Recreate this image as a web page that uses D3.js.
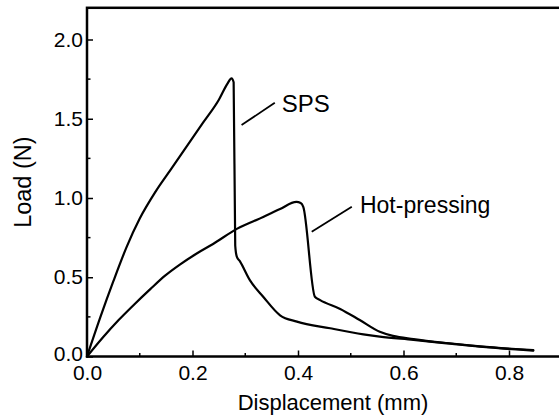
<!DOCTYPE html>
<html>
<head>
<meta charset="utf-8">
<script src="https://cdn.jsdelivr.net/npm/d3@7/dist/d3.min.js"></script>
<style>
  html, body { margin: 0; padding: 0; background: #fff; }
  svg { display: block; }
  text { font-family: "Liberation Sans", Arial, Helvetica, sans-serif; fill: #000; }
</style>
</head>
<body>
<script>
// ---- Data ----
const spsX = [0, 0.025, 0.05, 0.075, 0.10, 0.13, 0.16, 0.19, 0.22, 0.25, 0.266, 0.274, 0.278, 0.281, 0.284, 0.290, 0.309, 0.334, 0.366, 0.398, 0.461, 0.524, 0.555, 0.619, 0.682, 0.745, 0.846];
const spsY = [0, 0.245, 0.475, 0.69, 0.87, 1.04, 1.185, 1.33, 1.475, 1.62, 1.72, 1.755, 1.73, 0.70, 0.63, 0.60, 0.48, 0.377, 0.26, 0.22, 0.178, 0.14, 0.125, 0.105, 0.083, 0.062, 0.037];

const hotX = [0, 0.03, 0.06, 0.09, 0.12, 0.148, 0.176, 0.208, 0.239, 0.284, 0.334, 0.366, 0.397, 0.405, 0.410, 0.432, 0.442, 0.480, 0.517, 0.555, 0.580, 0.619, 0.682, 0.745, 0.846];
const hotY = [0, 0.12, 0.23, 0.33, 0.425, 0.51, 0.58, 0.65, 0.71, 0.805, 0.88, 0.93, 0.975, 0.968, 0.944, 0.377, 0.356, 0.30, 0.23, 0.156, 0.13, 0.11, 0.085, 0.064, 0.040];

const xTicks = [0, 0.2, 0.4, 0.6, 0.8];
const xMinorTicks = [0.1, 0.3, 0.5, 0.7];
const yTicks = [0, 0.5, 1.0, 1.5, 2.0];
const yMinorTicks = [0.25, 0.75, 1.25, 1.75];

const seriesNames = ["SPS", "Hot-pressing"];
// annotation: leader line start/end and label anchor, in data units
const annLineX1 = [0.293, 0.426];
const annLineY1 = [1.46, 0.787];
const annLineX2 = [0.356, 0.502];
const annLineY2 = [1.601, 0.945];
const annTextX = [0.369, 0.5175];
const annTextY = [1.545, 0.903];

const xTitle = "Displacement (mm)";
const yTitle = "Load (N)";

// ---- Chart ----
const W = 559, H = 416;
const svg = d3.select("body").append("svg").attr("width", W).attr("height", H);

const x = d3.scaleLinear().domain([0, 0.9]).range([87, 561.75]);
const y = d3.scaleLinear().domain([0, 2.2]).range([356.5, 7.8]);

// frame
svg.append("rect")
  .attr("x", x(0)).attr("y", y(2.2))
  .attr("width", x(0.9) - x(0)).attr("height", y(0) - y(2.2))
  .attr("fill", "none").attr("stroke", "#000").attr("stroke-width", 2.5);

// x ticks (inward)
const gx = svg.append("g").attr("transform", `translate(0,${y(0)})`);
gx.call(d3.axisBottom(x).tickValues(xTicks).tickSize(-6).tickPadding(10).tickFormat(d3.format(".1f")))
  .call(g => g.select(".domain").remove());
gx.selectAll(".tick line").attr("stroke", "#000").attr("stroke-width", 1.5);
gx.selectAll(".tick text").attr("font-size", 21).attr("dy", "0.71em").attr("y", 9)
  .style("font-family", '"Liberation Sans", Arial, sans-serif');
gx.append("g").selectAll("line").data(xMinorTicks).join("line")
  .attr("x1", d => x(d)).attr("x2", d => x(d)).attr("y1", 0).attr("y2", -3.5)
  .attr("stroke", "#000").attr("stroke-width", 1.5);

// y ticks (inward)
const gy = svg.append("g").attr("transform", `translate(${x(0)},0)`);
gy.call(d3.axisLeft(y).tickValues(yTicks).tickSize(-6).tickPadding(5).tickFormat(d3.format(".1f")))
  .call(g => g.select(".domain").remove());
gy.selectAll(".tick line").attr("stroke", "#000").attr("stroke-width", 1.5);
gy.selectAll(".tick text").attr("font-size", 21).attr("x", -4)
  .attr("dy", d => d === 0 ? "0.2em" : "0.32em")
  .style("font-family", '"Liberation Sans", Arial, sans-serif');
gy.append("g").selectAll("line").data(yMinorTicks).join("line")
  .attr("y1", d => y(d)).attr("y2", d => y(d)).attr("x1", 0).attr("x2", 3.5)
  .attr("stroke", "#000").attr("stroke-width", 1.5);

// axis titles
svg.append("text").attr("x", 333).attr("y", 410).attr("text-anchor", "middle")
  .attr("font-size", 22).text(xTitle);
svg.append("text").attr("transform", `translate(31,${(y(0) + y(2.2)) / 2}) rotate(-90)`)
  .attr("text-anchor", "middle").attr("font-size", 23.5).text(yTitle);

// curves
const line = d3.line().x(d => x(d[0])).y(d => y(d[1])).curve(d3.curveMonotoneX);
const spsData = spsX.map((v, i) => [v, spsY[i]]);
const hotData = hotX.map((v, i) => [v, hotY[i]]);
[spsData, hotData].forEach(data => {
  svg.append("path").datum(data).attr("d", line)
    .attr("fill", "none").attr("stroke", "#000").attr("stroke-width", 2.2)
    .attr("stroke-linejoin", "round").attr("stroke-linecap", "round");
});

// annotations
seriesNames.forEach((name, i) => {
  svg.append("line")
    .attr("x1", x(annLineX1[i])).attr("y1", y(annLineY1[i]))
    .attr("x2", x(annLineX2[i])).attr("y2", y(annLineY2[i]))
    .attr("stroke", "#000").attr("stroke-width", 1.8);
  svg.append("text").attr("x", x(annTextX[i])).attr("y", y(annTextY[i]))
    .attr("font-size", i === 0 ? 24 : 23).text(name);
});
</script>
</body>
</html>
